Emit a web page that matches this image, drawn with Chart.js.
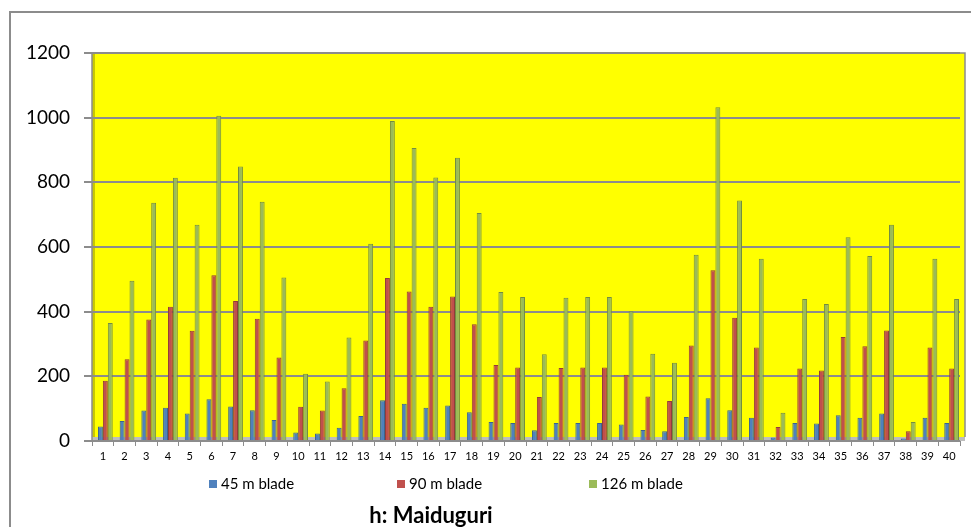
<!DOCTYPE html>
<html>
<head>
<meta charset="utf-8">
<script src="https://cdn.jsdelivr.net/npm/chart.js@4.4.1/dist/chart.umd.min.js"></script>
<style>
  html, body { margin: 0; padding: 0; background: #fff; }
  #wrap { position: relative; width: 971px; height: 527px; overflow: hidden; background: #fff; }
  #frame { position: absolute; left: 9px; top: 11px; width: 1000px; height: 600px;
           border-left: 2px solid #8c8c8c; border-top: 2px solid #8c8c8c; }
  canvas { position: absolute; left: 0; top: 0; }
  .leg { position: absolute; top: 474px; font-family: Lato, "Noto Sans", sans-serif; font-size: 15px; color: #000; white-space: nowrap; }
  .leg i { display: inline-block; width: 8px; height: 8px; margin-right: 4px; vertical-align: 1px; }
  #title { position: absolute; left: 281px; width: 300px; top: 501px; text-align: center;
           font-family: Lato, "Noto Sans", sans-serif; font-weight: bold; font-size: 22px; color: #000; }
</style>
</head>
<body>
<div id="wrap">
  <div id="frame"></div>
  <canvas id="c" width="971" height="527"></canvas>
  <div class="leg" id="leg0" style="left:209px"><i style="background:#4F81BD"></i>45 m blade</div>
  <div class="leg" id="leg1" style="left:397px"><i style="background:#C0504D"></i>90 m blade</div>
  <div class="leg" id="leg2" style="left:589px"><i style="background:#9BBB59"></i>126 m blade</div>
  <div id="title">h: Maiduguri</div>
</div>
<script>
const categories = ["1","2","3","4","5","6","7","8","9","10","11","12","13","14","15","16","17","18","19","20",
  "21","22","23","24","25","26","27","28","29","30","31","32","33","34","35","36","37","38","39","40"];
const blade45 = [45,62,94,103,85,129,107,95,65,26,23,41,77,126,115,103,110,89,59,56,
  33,56,56,56,51,34,30,74,132,95,72,11,56,54,80,72,85,8,72,56];
const blade90 = [186,253,376,415,341,513,433,378,258,106,94,163,311,504,462,415,447,361,235,227,
  136,226,227,227,205,138,124,295,528,381,289,43,224,218,322,293,342,30,289,224];
const blade126 = [365,496,737,814,669,1006,849,740,506,208,184,320,610,990,906,815,876,705,461,445,
  268,443,445,445,401,270,242,576,1032,744,564,87,439,424,630,572,669,59,564,439];
const seriesNames = ["45 m blade", "90 m blade", "126 m blade"];
const yTicks = [0, 200, 400, 600, 800, 1000, 1200];

const wallPlugin = {
  id: 'wall',
  beforeDraw(chart) {
    const {ctx, chartArea: a} = chart;
    ctx.save();
    ctx.fillStyle = '#FFFF00';
    ctx.fillRect(a.left, a.top, a.right - a.left + 5, a.bottom - a.top);
    ctx.fillStyle = '#C8C800';
    ctx.fillRect(a.left, a.top, 3, a.bottom - a.top);
    ctx.fillStyle = '#BDBDBD';
    ctx.fillRect(a.left, a.bottom - 4, a.right - a.left + 5, 4);
    ctx.strokeStyle = '#8c8c8c';
    ctx.lineWidth = 1.5;
    ctx.beginPath();
    ctx.moveTo(a.left, a.bottom);
    ctx.lineTo(a.left, a.top);
    ctx.lineTo(a.right + 5, a.top);
    ctx.lineTo(a.right + 5, a.bottom - 4);
    ctx.stroke();
    ctx.restore();
  },
  beforeDatasetsDraw(chart) {
    chart.ctx.save();
    chart.ctx.translate(2.5, 0);
  },
  afterDatasetsDraw(chart) {
    chart.ctx.restore();
  }
};

new Chart(document.getElementById('c'), {
  type: 'bar',
  data: {
    labels: categories,
    datasets: [
      { label: seriesNames[0], data: blade45, backgroundColor: '#4F81BD', borderColor: '#3A6391', borderWidth: 1 },
      { label: seriesNames[1], data: blade90, backgroundColor: '#C0504D', borderColor: '#923D3A', borderWidth: 1 },
      { label: seriesNames[2], data: blade126, backgroundColor: '#9BBB59', borderColor: '#738D41', borderWidth: 1 }
    ]
  },
  options: {
    responsive: false,
    animation: false,
    devicePixelRatio: 1,
    layout: { padding: { left: 0, right: 11, top: 53, bottom: 0 } },
    datasets: { bar: { categoryPercentage: 0.68, barPercentage: 1.0 } },
    plugins: { legend: { display: false }, title: { display: false }, tooltip: { enabled: false } },
    scales: {
      x: {
        afterFit(s) { s.height = 86; },
        grid: { display: true, drawOnChartArea: false, drawTicks: true, tickLength: 5, color: '#8c8c8c', lineWidth: 1 },
        border: { display: true, color: '#8c8c8c', width: 1 },
        ticks: { color: '#000', font: { family: 'Lato, "Noto Sans", sans-serif', size: 11 }, padding: 4, maxRotation: 0, autoSkip: false }
      },
      y: {
        min: 0, max: 1200,
        afterFit(s) { s.width = 92; },
        afterBuildTicks(s) { s.ticks = yTicks.map(v => ({ value: v })); },
        grid: { color: '#8c8c8c', lineWidth: 2, tickLength: 8, drawTicks: true },
        border: { display: false },
        ticks: { color: '#000', font: { family: 'Lato, "Noto Sans", sans-serif', size: 19 }, padding: 14,
                 callback: v => String(v) }
      }
    }
  },
  plugins: [wallPlugin]
});
</script>
</body>
</html>
